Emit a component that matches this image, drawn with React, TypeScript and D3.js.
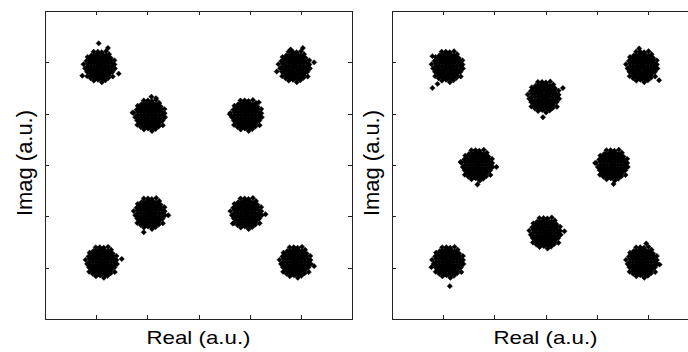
import React from "react";
import * as d3 from "d3";

// Cluster centres (a.u.)
const leftCenters: [number, number][] = [
  [-1.93, 1.92], [-0.95, 0.97], [0.94, 0.97], [1.88, 1.92],
  [-0.95, -0.94], [0.94, -0.94], [-1.89, -1.89], [1.9, -1.89],
];
const rightCenters: [number, number][] = [
  [-1.91, 1.92], [-0.03, 1.33], [1.89, 1.92], [-1.33, 0.0],
  [1.31, 0.0], [0.0, -1.32], [-1.9, -1.89], [1.89, -1.89],
];

// Noise samples around each centre (a.u.), read from the blobs' shape
const coreOffsets: [number, number][] = [
  [0, 0],
  [0.06, 0], [0.03, 0.052], [-0.03, 0.052], [-0.06, 0], [-0.03, -0.052], [0.03, -0.052],
  [0.12, 0], [0.104, 0.06], [0.06, 0.104], [0, 0.12], [-0.06, 0.104], [-0.104, 0.06],
  [-0.12, 0], [-0.104, -0.06], [-0.06, -0.104], [0, -0.12], [0.06, -0.104], [0.104, -0.06],
  [0.18, 0], [0.169, 0.062], [0.138, 0.116], [0.09, 0.156], [0.031, 0.177], [-0.031, 0.177],
  [-0.09, 0.156], [-0.138, 0.116], [-0.169, 0.062], [-0.18, 0], [-0.169, -0.062], [-0.138, -0.116],
  [-0.09, -0.156], [-0.031, -0.177], [0.031, -0.177], [0.09, -0.156], [0.138, -0.116], [0.169, -0.062],
  [0.24, 0], [0.232, 0.062], [0.208, 0.12], [0.17, 0.17], [0.12, 0.208], [0.062, 0.232],
  [0, 0.24], [-0.062, 0.232], [-0.12, 0.208], [-0.17, 0.17], [-0.208, 0.12], [-0.232, 0.062],
  [-0.24, 0], [-0.232, -0.062], [-0.208, -0.12], [-0.17, -0.17], [-0.12, -0.208], [-0.062, -0.232],
  [0, -0.24], [0.062, -0.232], [0.12, -0.208], [0.17, -0.17], [0.208, -0.12], [0.232, -0.062],
  [0.287, 0.038], [0.286, 0.119], [0.214, 0.164], [0.183, 0.238], [0.123, 0.296], [0.037, 0.277],
  [-0.038, 0.287], [-0.119, 0.286], [-0.164, 0.214], [-0.238, 0.183], [-0.259, 0.107], [-0.317, 0.042],
  [-0.287, -0.038], [-0.249, -0.103], [-0.246, -0.189], [-0.177, -0.23], [-0.115, -0.277], [-0.034, -0.258],
  [0.041, -0.307], [0.111, -0.268], [0.171, -0.222], [0.254, -0.195], [0.249, -0.103], [0.297, -0.039],
];

// Outlying samples per cluster (a.u. offsets)
const leftOutliers: [number, number][][] = [
  [[-0.02, 0.45], [0.16, 0.36], [-0.34, -0.18], [0.37, -0.14]],
  [[0.03, 0.36], [0.12, 0.33], [-0.34, 0.05]],
  [[0.24, 0.25], [-0.33, 0.02]],
  [[0.16, 0.36], [0.38, 0.08], [-0.08, 0.33], [-0.35, -0.1]],
  [[-0.12, -0.37], [0.36, -0.04]],
  [[0.37, -0.02], [-0.27, -0.2]],
  [[0.39, 0.06]],
  [[0.36, -0.08]],
];
const rightOutliers: [number, number][][] = [
  [[-0.3, -0.42], [-0.2, -0.34], [-0.3, 0.2]],
  [[-0.02, -0.4], [0.37, 0.17]],
  [[-0.06, 0.35], [0.33, -0.27]],
  [[0.0, -0.38], [-0.33, 0.06], [0.37, -0.04]],
  [[-0.34, 0.04], [0.02, -0.37]],
  [[0.37, 0.03]],
  [[0.03, -0.47], [-0.33, -0.1]],
  [[0.08, 0.36], [0.34, -0.05]],
];

const axisDomain: [number, number] = [-3, 3];
const tickValues = [-2, -1, 0, 1, 2];
const xLabel = "Real (a.u.)";
const yLabel = "Imag (a.u.)";

const W = 688;
const H = 352;
const TOP = 11;
const BOTTOM = 319;
const PANEL_W = 307;
const FONT = "'Liberation Sans', Arial, Helvetica, sans-serif";
const R = 2.7;
const TICK = 4;

const diamond = `M0,${-R}L${R},0L0,${R}L${-R},0Z`;

function Panel({ left, centers, outliers }: { left: number; centers: [number, number][]; outliers: [number, number][][] }) {
  const x = d3.scaleLinear().domain(axisDomain).range([left, left + PANEL_W]);
  const y = d3.scaleLinear().domain(axisDomain).range([BOTTOM, TOP]);
  const pts: [number, number][] = [];
  centers.forEach((c, i) => {
    coreOffsets.forEach((o) => pts.push([c[0] + o[0], c[1] + o[1]]));
    outliers[i].forEach((o) => pts.push([c[0] + o[0], c[1] + o[1]]));
  });
  const x0 = x(axisDomain[0]);
  const x1 = x(axisDomain[1]);
  const y0 = y(axisDomain[0]);
  const y1 = y(axisDomain[1]);
  const cx = (x0 + x1) / 2;
  const cy = (y0 + y1) / 2;
  return (
    <g>
      <g>
        {pts.map((p, i) => (
          <path key={i} d={diamond} transform={`translate(${x(p[0])},${y(p[1])})`} fill="#000" stroke="#000" strokeWidth={0.4} />
        ))}
      </g>
      <rect x={x0 + 0.5} y={y1 + 0.5} width={x1 - x0} height={y0 - y1} fill="none" stroke="#222" strokeWidth={1} shapeRendering="crispEdges" />
      {tickValues.map((t) => (
        <g key={t} stroke="#222" strokeWidth={1} shapeRendering="crispEdges">
          <line x1={Math.round(x(t)) + 0.5} x2={Math.round(x(t)) + 0.5} y1={y1} y2={y1 + TICK} />
          <line x1={Math.round(x(t)) + 0.5} x2={Math.round(x(t)) + 0.5} y1={y0} y2={y0 - TICK} />
          <line y1={Math.round(y(t)) + 0.5} y2={Math.round(y(t)) + 0.5} x1={x0} x2={x0 + TICK} />
          <line y1={Math.round(y(t)) + 0.5} y2={Math.round(y(t)) + 0.5} x1={x1} x2={x1 - TICK} />
        </g>
      ))}
      <text x={cx} y={344} fontFamily={FONT} fontSize={18.5} textAnchor="middle" textLength={104} lengthAdjust="spacingAndGlyphs" fill="#000">
        {xLabel}
      </text>
      <text transform={`translate(${left - 13},${cy - 2}) rotate(-90)`} fontFamily={FONT} fontSize={22} textAnchor="middle" textLength={106} lengthAdjust="spacingAndGlyphs" fill="#000">
        {yLabel}
      </text>
    </g>
  );
}

export default function App() {
  return (
    <svg width={W} height={H} viewBox={`0 0 ${W} ${H}`} style={{ position: "absolute", left: 0, top: 0, background: "#fff" }}>
      <rect x={0} y={0} width={W} height={H} fill="#fff" />
      <Panel left={45} centers={leftCenters} outliers={leftOutliers} />
      <Panel left={392} centers={rightCenters} outliers={rightOutliers} />
    </svg>
  );
}
